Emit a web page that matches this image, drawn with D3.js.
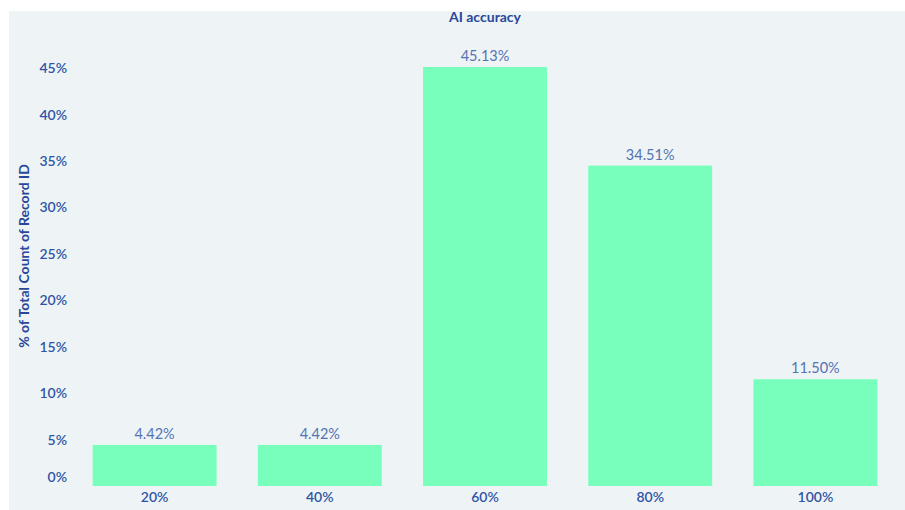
<!DOCTYPE html>
<html>
<head>
<meta charset="utf-8">
<script src="https://cdn.jsdelivr.net/npm/d3@7"></script>
<style>
  body { margin: 0; background: #fff; }
  svg { display: block; font-family: Lato, "Open Sans", sans-serif; }
</style>
</head>
<body>
<svg id="chart" width="905" height="510"></svg>
<script>
// data
const categories = ["20%", "40%", "60%", "80%", "100%"];
const shares = [4.42, 4.42, 45.13, 34.51, 11.50];
const yTicks = [0, 5, 10, 15, 20, 25, 30, 35, 40, 45];

const width = 905, height = 510;
const margin = {top: 67, right: 7, bottom: 24, left: 72};
const y0 = 486, yTop = 67;

const svg = d3.select("#chart");

// panel background
svg.append("rect")
  .attr("x", 9).attr("y", 11)
  .attr("width", width - 9).attr("height", height - 11)
  .attr("fill", "#eef4f5");

const x = d3.scaleBand()
  .domain(categories)
  .range([margin.left, width - margin.right])
  .paddingInner(0.25)
  .paddingOuter(0.125);

// 45.13 sits at the top of the bars
const y = d3.scaleLinear()
  .domain([0, 45.13])
  .range([y0, yTop]);

// title
svg.append("text")
  .attr("x", x("60%") + x.bandwidth() / 2)
  .attr("y", 22)
  .attr("text-anchor", "middle")
  .attr("font-size", 14)
  .attr("font-weight", "bold")
  .attr("fill", "#28479a")
  .text("AI accuracy");

// y axis title
svg.append("text")
  .attr("transform", "translate(29,256) rotate(-90)")
  .attr("text-anchor", "middle")
  .attr("font-size", 14)
  .attr("font-weight", "bold")
  .attr("fill", "#28479a")
  .text("% of Total Count of Record ID");

// y axis
const yAxis = svg.append("g")
  .attr("transform", "translate(67,0)")
  .call(d3.axisLeft(y).tickValues(yTicks).tickSize(0).tickPadding(0).tickFormat(d => d + "%"));
yAxis.select(".domain").remove();
yAxis.selectAll("text")
  .attr("font-family", "Lato, sans-serif")
  .attr("font-size", 14)
  .attr("font-weight", 600)
  .attr("fill", "#2f54a6")
  .attr("dy", d => d === 0 ? "-0.32em" : "0.32em");

// bars
svg.selectAll(".bar")
  .data(shares)
  .enter()
  .append("rect")
  .attr("class", "bar")
  .attr("x", (d, i) => x(categories[i]))
  .attr("y", d => y(d))
  .attr("width", x.bandwidth())
  .attr("height", d => y0 - y(d))
  .attr("fill", "#77ffbb");

// value labels
svg.selectAll(".val")
  .data(shares)
  .enter()
  .append("text")
  .attr("class", "val")
  .attr("x", (d, i) => x(categories[i]) + x.bandwidth() / 2)
  .attr("y", d => y(d) - 6)
  .attr("text-anchor", "middle")
  .attr("font-size", 14.5)
  .attr("fill", "#5472b4")
  .text(d => d.toFixed(2) + "%");

// x axis
const xAxis = svg.append("g")
  .attr("transform", "translate(0," + y0 + ")")
  .call(d3.axisBottom(x).tickSize(0).tickPadding(6));
xAxis.select(".domain").remove();
xAxis.selectAll("text")
  .attr("font-family", "Lato, sans-serif")
  .attr("font-size", 14)
  .attr("font-weight", 600)
  .attr("fill", "#2f54a6");
</script>
</body>
</html>
